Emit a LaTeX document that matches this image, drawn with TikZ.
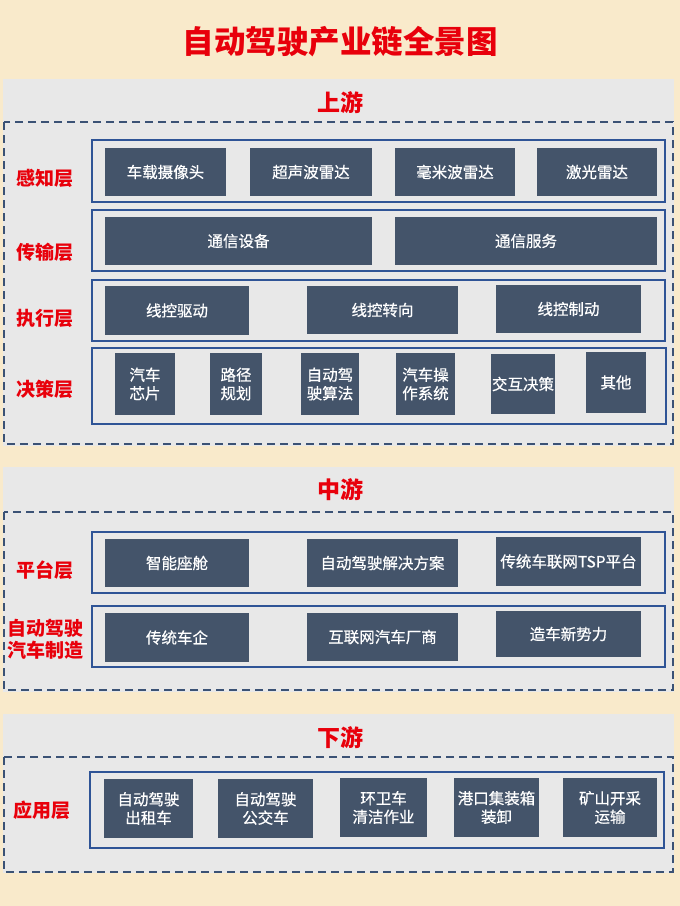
\documentclass[tikz,border=0pt]{standalone}
\usepackage{fontspec}
\setmainfont{Noto Sans CJK SC}
\newfontfamily\boxfont{Noto Sans CJK SC}[FakeBold=0.6]
\definecolor{cream}{HTML}{F9EACB}
\definecolor{panelgray}{HTML}{E8E8E8}
\definecolor{darkbox}{HTML}{44546A}
\definecolor{rowblue}{HTML}{2F5496}
\definecolor{dashblue}{HTML}{3B5275}
\definecolor{titlered}{HTML}{E8000B}
\tikzset{
  dbx/.style={fill=darkbox, draw=none, text=white, inner sep=0pt, align=center,
    font=\boxfont\fontsize{15.5}{18.5}\selectfont},
  rowbox/.style={draw=rowblue, line width=2pt, fill=none},
  dashbox/.style={draw=dashblue, line width=2pt, dash pattern=on 8pt off 5pt},
  panel/.style={fill=panelgray, draw=none},
  lbl/.style={text=titlered, font=\fontsize{19}{22}\selectfont\bfseries, align=center, inner sep=0pt},
  sectitle/.style={text=titlered, font=\fontsize{23}{26}\selectfont\bfseries, inner sep=0pt},
}
\newcommand\dbox[6]{\node[dbx, minimum width={#4-#2}, minimum height={#5-#3}] (#1) at ({(#2+#4)/2},{(#3+#5)/2}) {#6};}
\begin{document}
\begin{tikzpicture}[x=1pt,y=-1pt]
\useasboundingbox (0,0) rectangle (680,906);
\fill[cream] (0,0) rectangle (680,906);
\node[text=titlered, font=\fontsize{31.5}{34}\selectfont\bfseries, inner sep=0pt] (title) at (340,42) {自动驾驶产业链全景图};

% ===== upstream =====
\fill[panel] (3,79) rectangle (674,446);
\node[sectitle] (up) at (340,103) {上游};
\draw[dashbox] (4,122) rectangle (673,444);

\draw[rowbox] (92,140) rectangle (665,202);
\node[lbl] (l1) at (45,178) {感知层};
\dbox{c1}{105}{148}{226}{196}{车载摄像头}
\dbox{c2}{250}{148}{372}{196}{超声波雷达}
\dbox{c3}{395}{148}{515}{196}{毫米波雷达}
\dbox{c4}{537}{148}{657}{196}{激光雷达}

\draw[rowbox] (92,210) rectangle (665,271);
\node[lbl] (l2) at (45,252) {传输层};
\dbox{t1}{105}{217}{372}{265}{通信设备}
\dbox{t2}{395}{217}{657}{265}{通信服务}

\draw[rowbox] (92,280) rectangle (665,341);
\node[lbl] (l3) at (45,318) {执行层};
\dbox{e1}{105}{286}{249}{335}{线控驱动}
\dbox{e2}{307}{286}{458}{334}{线控转向}
\dbox{e3}{496}{285}{641}{333}{线控制动}

\draw[rowbox] (92,348) rectangle (666,424);
\node[lbl] (l4) at (45,389) {决策层};
\dbox{d1}{115}{353}{175}{415}{汽车\\芯片}
\dbox{d2}{210}{353}{262}{415}{路径\\规划}
\dbox{d3}{301}{353}{359}{415}{自动驾\\驶算法}
\dbox{d4}{396}{353}{455}{415}{汽车操\\作系统}
\dbox{d5}{491}{354}{555}{414}{交互决策}
\dbox{d6}{586}{352}{646}{413}{其他}

% ===== midstream =====
\fill[panel] (3,467) rectangle (674,692);
\node[sectitle] (mid) at (340,490) {中游};
\draw[dashbox] (4,512) rectangle (673,690);

\draw[rowbox] (92,532) rectangle (665,593);
\node[lbl] (l5) at (45,570) {平台层};
\dbox{p1}{105}{539}{249}{587}{智能座舱}
\dbox{p2}{307}{539}{458}{587}{自动驾驶解决方案}
\dbox{p3}{496}{537}{641}{586}{传统车联网TSP平台}

\draw[rowbox] (92,606) rectangle (665,667);
\node[lbl] (l6) at (46,639) {自动驾驶\\汽车制造};
\dbox{m1}{105}{613}{249}{662}{传统车企}
\dbox{m2}{307}{613}{458}{661}{互联网汽车厂商}
\dbox{m3}{496}{611}{641}{657}{造车新势力}

% ===== downstream =====
\fill[panel] (3,714) rectangle (674,873);
\node[sectitle] (down) at (340,738) {下游};
\draw[dashbox] (4,757) rectangle (673,872);

\draw[rowbox] (90,772) rectangle (664,848);
\node[lbl] (l7) at (42,810) {应用层};
\dbox{a1}{104}{779}{193}{838}{自动驾驶\\出租车}
\dbox{a2}{218}{779}{313}{838}{自动驾驶\\公交车}
\dbox{a3}{340}{778}{427}{837}{环卫车\\清洁作业}
\dbox{a4}{454}{778}{539}{837}{港口集装箱\\装卸}
\dbox{a5}{563}{778}{657}{837}{矿山开采\\运输}
\end{tikzpicture}
\end{document}
